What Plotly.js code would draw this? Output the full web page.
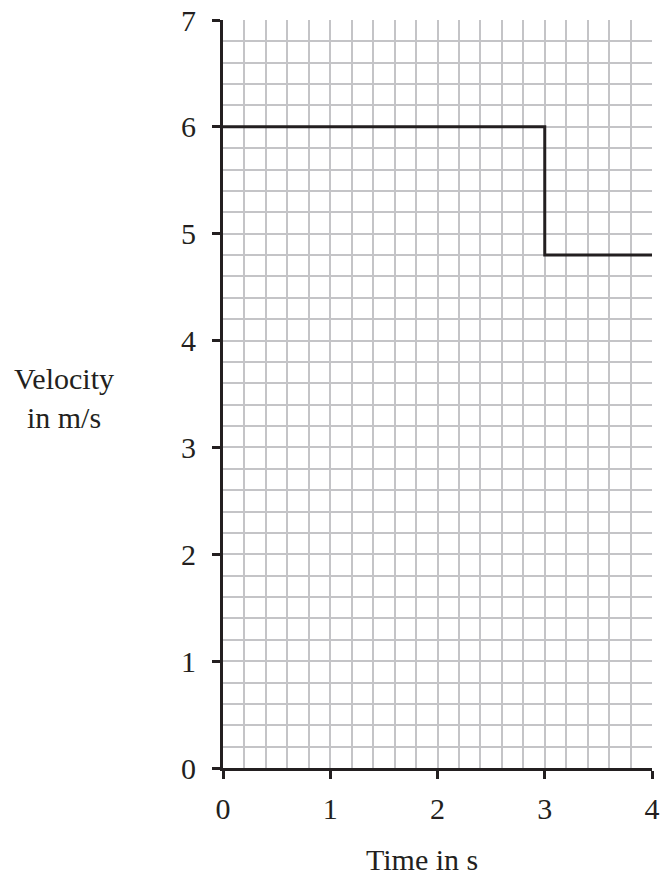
<!DOCTYPE html>
<html>
<head>
<meta charset="utf-8">
<script src="https://cdn.plot.ly/plotly-3.0.1.min.js"></script>
<style>html,body{margin:0;padding:0;background:#fff;}#chart{width:661px;height:876px;}</style>
</head>
<body>
<div id="chart"></div>
<script>
// Data
const timeValues = [0, 3, 3, 4];
const velocityValues = [6, 6, 4.8, 4.8];
const xTickValues = [0, 1, 2, 3, 4];
const yTickValues = [0, 1, 2, 3, 4, 5, 6, 7];
const xTitle = "Time in s";
const yTitleLines = ["Velocity", "in m/s"];

const font = "Liberation Serif, Times New Roman, serif";
const ink = "#231f20";
const gridGrey = "#c4c4c7";

const trace = {
  x: timeValues,
  y: velocityValues,
  mode: "lines",
  line: {color: ink, width: 3},
  hoverinfo: "skip",
  showlegend: false
};

const layout = {
  width: 661,
  height: 876,
  margin: {l: 223, r: 9, t: 20, b: 108},
  paper_bgcolor: "#ffffff",
  plot_bgcolor: "#ffffff",
  font: {family: font, size: 30, color: ink},
  xaxis: {
    range: [0, 4],
    tickvals: xTickValues,
    ticktext: xTickValues.map(String),
    showgrid: true,
    gridcolor: gridGrey,
    gridwidth: 2,
    minor: {dtick: 0.2, tick0: 0, showgrid: true, gridcolor: gridGrey, gridwidth: 2},
    showline: true,
    linecolor: ink,
    linewidth: 3,
    ticks: "outside",
    ticklen: 8,
    tickwidth: 3,
    tickcolor: ink,
    ticklabelstandoff: 4,
    zeroline: false,
    fixedrange: true,
    tickfont: {family: font, size: 30, color: ink}
  },
  yaxis: {
    range: [0, 7],
    tickvals: yTickValues,
    ticktext: yTickValues.map(String),
    showgrid: true,
    gridcolor: gridGrey,
    gridwidth: 2,
    minor: {dtick: 0.2, tick0: 0, showgrid: true, gridcolor: gridGrey, gridwidth: 2},
    showline: true,
    linecolor: ink,
    linewidth: 3,
    ticks: "outside",
    ticklen: 8,
    tickwidth: 3,
    tickcolor: ink,
    ticklabelstandoff: 10,
    zeroline: false,
    fixedrange: true,
    tickfont: {family: font, size: 30, color: ink}
  },
  annotations: [
    {
      text: xTitle,
      xref: "paper", yref: "paper",
      x: 0.5, xshift: -16, y: 0, yshift: -73,
      xanchor: "center", yanchor: "top",
      showarrow: false,
      font: {family: font, size: 30, color: ink}
    },
    {
      text: yTitleLines.join("<br>"),
      xref: "paper", yref: "paper",
      x: 0, xshift: -159, y: 0.495,
      xanchor: "center", yanchor: "middle",
      align: "center",
      showarrow: false,
      font: {family: font, size: 30, color: ink}
    }
  ]
};

Plotly.newPlot("chart", [trace], layout, {staticPlot: true, displayModeBar: false});
</script>
</body>
</html>
